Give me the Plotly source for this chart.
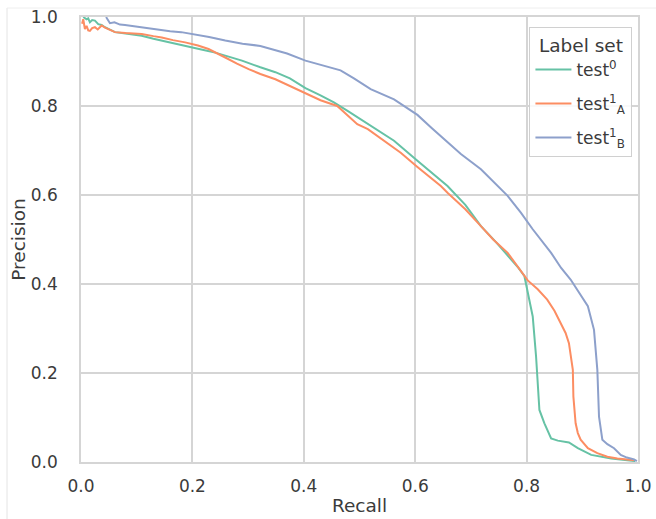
import plotly.graph_objects as go

# ---------------- data ----------------
series_names = ["test<sup>0</sup>", "test<sup>1</sup><sub>A</sub>", "test<sup>1</sup><sub>B</sub>"]
series_colors = ["#66c2a5", "#fc8d62", "#8da0cb"]

recall_0 = [0.004, 0.010, 0.013, 0.016, 0.020, 0.025, 0.031, 0.037, 0.043, 0.052,
            0.061, 0.080, 0.109, 0.130, 0.157, 0.180, 0.199, 0.220, 0.241, 0.265,
            0.289, 0.322, 0.349, 0.375, 0.403, 0.430, 0.454, 0.480, 0.502, 0.538,
            0.562, 0.604, 0.658, 0.690, 0.718, 0.745, 0.766, 0.785, 0.796, 0.805,
            0.811, 0.817, 0.820, 0.823, 0.832, 0.844, 0.856, 0.876, 0.892, 0.916,
            0.952, 0.987, 0.995]
precision_0 = [1.000, 0.995, 0.997, 0.988, 0.993, 0.992, 0.984, 0.982, 0.977, 0.972,
               0.966, 0.963, 0.958, 0.951, 0.943, 0.937, 0.931, 0.926, 0.920, 0.911,
               0.902, 0.887, 0.876, 0.862, 0.840, 0.824, 0.808, 0.788, 0.770, 0.740,
               0.722, 0.677, 0.620, 0.578, 0.530, 0.494, 0.463, 0.437, 0.418, 0.365,
               0.327, 0.237, 0.177, 0.117, 0.087, 0.053, 0.048, 0.044, 0.031, 0.016,
               0.008, 0.004, 0.002]

recall_A = [0.002, 0.004, 0.007, 0.010, 0.013, 0.016, 0.020, 0.025, 0.030, 0.037,
            0.043, 0.049, 0.061, 0.080, 0.109, 0.130, 0.145, 0.165, 0.187, 0.210,
            0.229, 0.259, 0.280, 0.301, 0.322, 0.349, 0.375, 0.403, 0.430, 0.460,
            0.480, 0.496, 0.515, 0.532, 0.554, 0.574, 0.604, 0.646, 0.658, 0.690,
            0.718, 0.740, 0.766, 0.785, 0.802, 0.820, 0.837, 0.850, 0.862, 0.870,
            0.876, 0.880, 0.883, 0.884, 0.888, 0.892, 0.897, 0.910, 0.927, 0.945,
            0.963, 0.993]
precision_A = [0.985, 0.995, 0.973, 0.980, 0.970, 0.969, 0.975, 0.977, 0.972, 0.981,
               0.976, 0.973, 0.966, 0.964, 0.962, 0.957, 0.954, 0.948, 0.943, 0.936,
               0.928, 0.909, 0.895, 0.883, 0.872, 0.860, 0.845, 0.827, 0.813, 0.800,
               0.778, 0.759, 0.748, 0.733, 0.712, 0.695, 0.663, 0.620, 0.605, 0.568,
               0.530, 0.500, 0.470, 0.438, 0.408, 0.388, 0.365, 0.340, 0.312, 0.290,
               0.267, 0.235, 0.207, 0.147, 0.087, 0.065, 0.050, 0.031, 0.020, 0.012,
               0.008, 0.004]

recall_B = [0.045, 0.048, 0.052, 0.060, 0.070, 0.079, 0.100, 0.120, 0.139, 0.160,
            0.180, 0.200, 0.230, 0.259, 0.290, 0.322, 0.343, 0.370, 0.403, 0.430,
            0.466, 0.490, 0.520, 0.562, 0.604, 0.630, 0.658, 0.682, 0.718, 0.740,
            0.766, 0.790, 0.811, 0.844, 0.862, 0.879, 0.895, 0.910, 0.921, 0.924,
            0.927, 0.930, 0.933, 0.936, 0.945, 0.957, 0.969, 0.980, 0.993, 0.998]
precision_B = [1.000, 0.995, 0.986, 0.988, 0.983, 0.982, 0.978, 0.974, 0.971, 0.968,
               0.966, 0.962, 0.955, 0.947, 0.940, 0.935, 0.928, 0.918, 0.902, 0.893,
               0.880, 0.862, 0.838, 0.815, 0.780, 0.750, 0.718, 0.692, 0.658, 0.630,
               0.598, 0.560, 0.523, 0.470, 0.436, 0.410, 0.380, 0.350, 0.297, 0.250,
               0.207, 0.102, 0.070, 0.050, 0.040, 0.031, 0.016, 0.010, 0.006, 0.002]

tick_vals = [0.0, 0.2, 0.4, 0.6, 0.8, 1.0]
tick_text = ["0.0", "0.2", "0.4", "0.6", "0.8", "1.0"]

# ---------------- figure ----------------
FONT = "DejaVu Sans"
TXT = "#3b3b3b"
GRID = "#d5d5d5"

fig = go.Figure()
for i, (name, color, r, p) in enumerate(zip(series_names, series_colors,
                                            [recall_0, recall_A, recall_B],
                                            [precision_0, precision_A, precision_B])):
    fig.add_trace(go.Scatter(x=r, y=p, mode="lines", name=name,
                             legendgroup=f"g{i}",
                             line=dict(color=color, width=2)))

axis_common = dict(
    range=[0, 1], tickvals=tick_vals, ticktext=tick_text,
    showgrid=True, gridcolor=GRID, gridwidth=1.5,
    showline=True, linecolor=GRID, linewidth=1.5, mirror=True,
    zeroline=False, ticks="", tickfont=dict(family=FONT, size=17, color=TXT),
    automargin=False,
)

fig.update_layout(
    width=656, height=519,
    margin=dict(l=81, r=18, t=17, b=57),
    paper_bgcolor="white", plot_bgcolor="white",
    font=dict(family=FONT, color=TXT),
    xaxis=dict(**axis_common, ticklabelstandoff=8,
               title=dict(text="Recall", font=dict(family=FONT, size=18.5, color=TXT), standoff=4)),
    yaxis=dict(**axis_common, ticklabelstandoff=18,
               title=dict(text="Precision", font=dict(family=FONT, size=18.5, color=TXT), standoff=0)),
    legend=dict(
        title=dict(text="Label set", side="top center",
                   font=dict(family=FONT, size=18.5, color=TXT)),
        font=dict(family=FONT, size=17, color=TXT),
        x=0.99, xanchor="right", y=0.978, yanchor="top",
        bgcolor="rgba(255,255,255,0.85)", bordercolor="#d0d0d0", borderwidth=1,
        itemwidth=36, tracegroupgap=9,
    ),
    showlegend=True,
)

# faint frame of the original screenshot (left and top edges)
fig.add_shape(type="line", xref="paper", yref="paper",
              x0=(7 - 81) / 557, x1=(7 - 81) / 557, y0=-0.2, y1=(462 - 8) / 445,
              line=dict(color="#e4e4e4", width=1))
fig.add_shape(type="line", xref="paper", yref="paper",
              x0=(7 - 81) / 557, x1=1.1, y0=(462 - 8) / 445, y1=(462 - 8) / 445,
              line=dict(color="#eeeeee", width=1))

fig.write_html("out.html")
